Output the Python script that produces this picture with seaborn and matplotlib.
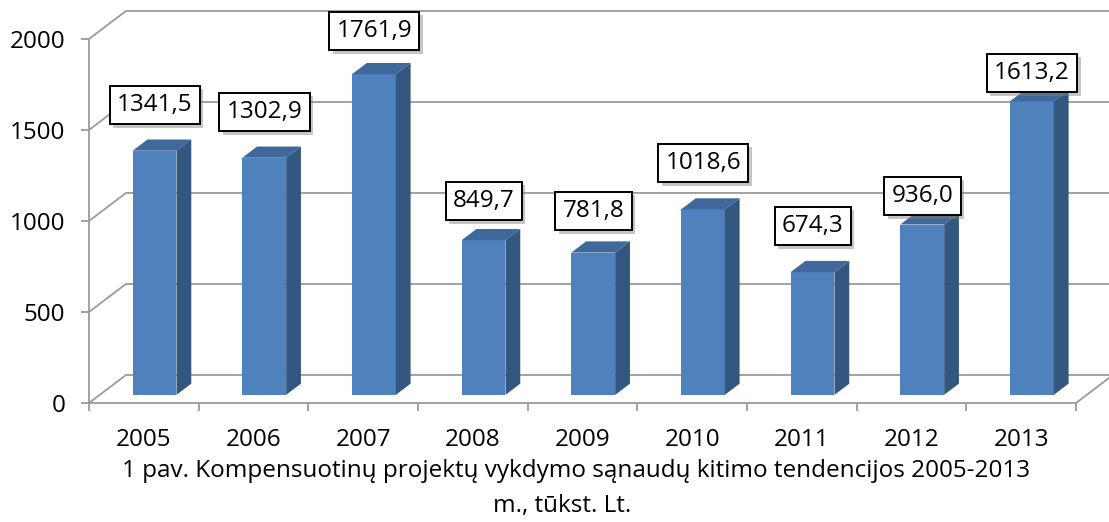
import matplotlib
matplotlib.use("Agg")
import matplotlib.pyplot as plt
import matplotlib.patheffects as pe
from matplotlib.patches import Polygon
import seaborn as sns

# data (thousand Lt)
years = ["2005", "2006", "2007", "2008", "2009", "2010", "2011", "2012", "2013"]
values = [1341.5, 1302.9, 1761.9, 849.7, 781.8, 1018.6, 674.3, 936.0, 1613.2]
y_ticks = [0, 500, 1000, 1500, 2000]
caption_1 = "1 pav. Kompensuotinų projektų vykdymo sąnaudų kitimo tendencijos 2005-2013"
caption_2 = "m., tūkst. Lt."

# how high each label box sits above its bar (value units)
label_lift = [296, 296, 282, 260, 273, 300, 298, 202, 200]

sns.set_style("white")
plt.rcParams['font.family'] = ['Open Sans', 'DejaVu Sans']
plt.rcParams['text.color'] = 'black'

front_c = "#4F81BD"
top_c = "#3F689B"
side_c = "#34577F"
line_c = "#9A9A9A"
fs = 17.5

# fake 3d depth in data units
DX = 0.337   # full depth, categories
DY = 154     # full depth, value units
f0, f1 = 0.29, 0.69   # bars sit between these depth fractions

fig = plt.figure(figsize=(11.09, 5.22), dpi=100)
ax = fig.add_axes([89 / 1109, 119 / 522, 987 / 1109, 364 / 522])

sns.barplot(x=years, y=values, width=0.4, color=front_c, saturation=1,
            linewidth=0, ax=ax, zorder=3)

ddx = (f1 - f0) * DX
ddy = (f1 - f0) * DY
for i, p in enumerate(ax.patches):
    p.set_x(p.get_x() + f0 * DX)
    p.set_y(f0 * DY)
    x0 = p.get_x()
    x1 = x0 + p.get_width()
    yb = p.get_y()
    yt = yb + p.get_height()
    ax.add_patch(Polygon([(x0, yt), (x1, yt), (x1 + ddx, yt + ddy), (x0 + ddx, yt + ddy)],
                         closed=True, fc=top_c, ec="none", zorder=3, clip_on=False))
    ax.add_patch(Polygon([(x1, yb), (x1 + ddx, yb + ddy), (x1 + ddx, yt + ddy), (x1, yt)],
                         closed=True, fc=side_c, ec="none", zorder=3, clip_on=False))

    lbl = f"{values[i]:.1f}".replace(".", ",")
    t = ax.text(i + 0.1, values[i] + label_lift[i], lbl, ha="center", va="center",
                fontsize=fs, color="black", zorder=6, clip_on=False,
                bbox=dict(boxstyle="square,pad=0.3", fc="white", ec="black", lw=1.4))
    t.get_bbox_patch().set_path_effects([
        pe.SimplePatchShadow(offset=(2.5, -2.5), shadow_rgbFace="gray", alpha=0.45),
        pe.Normal()])

ax.set_xlim(-0.5, 8.5)
ax.set_ylim(0, 2000)

# walls: gridlines run from the front-left edge back then across the back wall
for v in y_ticks:
    ax.plot([-0.5, -0.5 + DX, 9.5], [v, v + DY, v + DY], color=line_c, lw=1.3,
            zorder=1, clip_on=False, solid_capstyle="butt")
ax.plot([8.5, 8.5 + DX], [0, DY], color=line_c, lw=1.3, zorder=1, clip_on=False)

for s in ["top", "right"]:
    ax.spines[s].set_visible(False)
for s in ["left", "bottom"]:
    ax.spines[s].set_color(line_c)
    ax.spines[s].set_linewidth(1.3)

ax.set_yticks(y_ticks)
ax.tick_params(axis="y", direction="out", length=6, width=1.3, color=line_c,
               pad=11, labelsize=fs, labelcolor="black", left=True)
ax.set_xticks(range(len(years)))
ax.set_xticklabels(years)
ax.set_xticks([i - 0.5 for i in range(len(years) + 1)], minor=True)
ax.tick_params(axis="x", which="major", length=0, pad=18, labelsize=fs,
               labelcolor="black")
ax.tick_params(axis="x", which="minor", direction="out", length=6, width=1.3,
               color=line_c, bottom=True)
ax.set_xlabel("")
ax.set_ylabel("")

fig.text(576 / 1109, 1 - 471 / 522, caption_1, ha="center", va="center", fontsize=fs)
fig.text(562 / 1109, 1 - 506 / 522, caption_2, ha="center", va="center", fontsize=fs)

fig.savefig("out.png", dpi=100, facecolor="white")
